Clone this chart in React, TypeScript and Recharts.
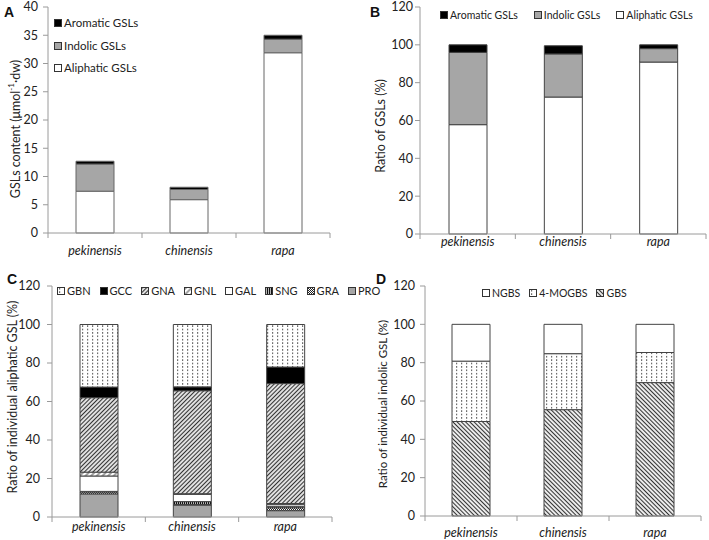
import React from "react";
import { BarChart, Bar, XAxis, YAxis, Legend } from "recharts";

const categories = ["pekinensis", "chinensis", "rapa"];

// A: GSLs content (µmol/g dw)
const aliphaticContent = [7.4, 5.9, 31.9];
const indolicContent = [4.8, 1.8, 2.4];
const aromaticContent = [0.5, 0.4, 0.7];

// B: ratio of GSLs (%)
const aliphaticRatio = [57.8, 72.4, 90.9];
const indolicRatio = [38.2, 22.8, 7.1];
const aromaticRatio = [4.0, 4.3, 2.0];

// C: individual aliphatic GSL (%)
const pro = [12.0, 6.2, 3.3];
const gra = [1.0, 0.3, 1.5];
const sng = [0.3, 1.5, 0.8];
const gal = [8.0, 3.8, 1.0];
const gnl = [2.0, 0.3, 0.4];
const gna = [38.7, 53.5, 62.3];
const gcc = [5.5, 2.0, 8.6];
const gbn = [32.5, 32.4, 22.1];

// D: individual indolic GSL (%)
const gbs = [49.3, 55.5, 69.6];
const mogbs = [31.5, 29.2, 15.7];
const ngbs = [19.2, 15.3, 14.7];

const ticksContent = [0, 5, 10, 15, 20, 25, 30, 35, 40];
const ticksPct = [0, 20, 40, 60, 80, 100, 120];

const FONT = "Lato, 'Noto Sans', sans-serif";
const AXIS = "#9a9a9a";
const EDGE = "#444";

type Series = { key: string; name: string; fill: string; values: number[] };

const seriesA: Series[] = [
  { key: "aliphatic", name: "Aliphatic GSLs", fill: "#ffffff", values: aliphaticContent },
  { key: "indolic", name: "Indolic GSLs", fill: "#a6a6a6", values: indolicContent },
  { key: "aromatic", name: "Aromatic GSLs", fill: "#000000", values: aromaticContent },
];
const seriesB: Series[] = [
  { key: "aliphatic", name: "Aliphatic GSLs", fill: "#ffffff", values: aliphaticRatio },
  { key: "indolic", name: "Indolic GSLs", fill: "#a6a6a6", values: indolicRatio },
  { key: "aromatic", name: "Aromatic GSLs", fill: "#000000", values: aromaticRatio },
];
const seriesC: Series[] = [
  { key: "PRO", name: "PRO", fill: "#a6a6a6", values: pro },
  { key: "GRA", name: "GRA", fill: "url(#pChk)", values: gra },
  { key: "SNG", name: "SNG", fill: "url(#pVert)", values: sng },
  { key: "GAL", name: "GAL", fill: "#ffffff", values: gal },
  { key: "GNL", name: "GNL", fill: "url(#pWide)", values: gnl },
  { key: "GNA", name: "GNA", fill: "url(#pFwd)", values: gna },
  { key: "GCC", name: "GCC", fill: "#000000", values: gcc },
  { key: "GBN", name: "GBN", fill: "url(#pDots)", values: gbn },
];
const seriesD: Series[] = [
  { key: "GBS", name: "GBS", fill: "url(#pBack)", values: gbs },
  { key: "MOGBS", name: "4-MOGBS", fill: "url(#pDots)", values: mogbs },
  { key: "NGBS", name: "NGBS", fill: "#ffffff", values: ngbs },
];

function toRows(series: Series[]) {
  return categories.map((c, i) => {
    const row: Record<string, any> = { name: c };
    series.forEach((s) => (row[s.key] = s.values[i]));
    return row;
  });
}

function CategoryTick(props: any) {
  const { x, y, payload, index, labelDy, half } = props;
  const h = payload && payload.offset ? payload.offset : half;
  return (
    <g>
      <line x1={x - h} x2={x - h} y1={y} y2={y + 5} stroke={AXIS} />
      {index === categories.length - 1 && <line x1={x + h} x2={x + h} y1={y} y2={y + 5} stroke={AXIS} />}
      <text x={x} y={y + labelDy} textAnchor="middle" fontStyle="italic" fontSize={12.5} fontFamily={FONT} fill="#222">
        {payload.value}
      </text>
    </g>
  );
}

function LegendBox({ items, vertical, gap, fontSize }: { items: Series[]; vertical?: boolean; gap: number; fontSize: number }) {
  return (
    <div
      style={{
        display: "flex",
        flexDirection: vertical ? "column" : "row",
        gap,
        fontFamily: FONT,
        fontSize,
        color: "#222",
        whiteSpace: "nowrap",
      }}
    >
      {items.map((s) => (
        <div key={s.key} style={{ display: "flex", alignItems: "center", gap: 2, lineHeight: "12px" }}>
          <svg width={8} height={8}>
            <rect x={0.5} y={0.5} width={7} height={7} fill={s.fill} stroke="#333" strokeWidth={1} />
          </svg>
          <span>{s.name}</span>
        </div>
      ))}
    </div>
  );
}

type PanelProps = {
  letter: string;
  left: number;
  top: number;
  width: number;
  series: Series[];
  domain: [number, number];
  ticks: number[];
  yWidth: number;
  margin: { top: number; right: number; bottom: number; left: number };
  xHeight: number;
  labelDy: number;
  tickMargin: number;
  yLabel: React.ReactNode;
  yLabelPos: [number, number];
  yLabelSize: number;
  legend: { left: number; top: number; vertical?: boolean; gap: number; fontSize: number };
  letterPos: [number, number];
  edge: string;
};

function Panel(p: PanelProps) {
  const plotW = p.width - p.margin.left - p.margin.right - p.yWidth;
  const half = plotW / categories.length / 2;
  return (
    <div style={{ position: "absolute", left: p.left, top: p.top }}>
      <BarChart width={p.width} height={270} data={toRows(p.series)} margin={p.margin} barSize={38}>
        <XAxis
          dataKey="name"
          height={p.xHeight}
          axisLine={{ stroke: AXIS }}
          tickLine={false}
          tickSize={0}
          tickMargin={0}
          interval={0}
          tick={(t: any) => <CategoryTick {...t} labelDy={p.labelDy} half={half} />}
        />
        <YAxis
          width={p.yWidth}
          domain={p.domain}
          ticks={p.ticks}
          interval={0}
          axisLine={{ stroke: AXIS }}
          tickLine={{ stroke: AXIS }}
          tickSize={5}
          tickMargin={p.tickMargin}
          tick={{ fontSize: 12.5, fill: "#222", fontFamily: FONT }}
          label={{
            content: () => (
              <text
                x={p.yLabelPos[0]}
                y={p.yLabelPos[1]}
                transform={`rotate(-90 ${p.yLabelPos[0]} ${p.yLabelPos[1]})`}
                textAnchor="middle"
                dominantBaseline="central"
                fontSize={p.yLabelSize}
                fontFamily={FONT}
                fill="#222"
              >
                {p.yLabel}
              </text>
            ),
          }}
        />
        <Legend
          layout="horizontal"
          verticalAlign="middle"
          align="center"
          wrapperStyle={{ position: "absolute", left: p.legend.left, top: p.legend.top, width: "auto", height: "auto" }}
          content={() => (
            <LegendBox
              items={[...p.series].reverse()}
              vertical={p.legend.vertical}
              gap={p.legend.gap}
              fontSize={p.legend.fontSize}
            />
          )}
        />
        {p.series.map((s) => (
          <Bar
            key={s.key}
            dataKey={s.key}
            name={s.name}
            stackId="s"
            fill={s.fill}
            stroke={p.edge}
            strokeWidth={1}
            isAnimationActive={false}
          />
        ))}
      </BarChart>
      <div
        style={{
          position: "absolute",
          left: p.letterPos[0],
          top: p.letterPos[1],
          fontFamily: "Arial, 'Liberation Sans', sans-serif",
          fontWeight: "bold",
          fontSize: 14,
          color: "#111",
        }}
      >
        {p.letter}
      </div>
    </div>
  );
}

function Patterns() {
  return (
    <svg width={0} height={0} style={{ position: "absolute" }}>
      <defs>
        <pattern id="pDots" width="5" height="3.4" patternUnits="userSpaceOnUse">
          <rect width="5" height="3.4" fill="#fff" />
          <rect x="2" y="1.1" width="1.2" height="1.2" fill="#333" />
        </pattern>
        <pattern id="pFwd" width="3" height="3" patternUnits="userSpaceOnUse" patternTransform="rotate(45)">
          <rect width="3" height="3" fill="#fff" />
          <line x1="1.5" y1="0" x2="1.5" y2="3" stroke="#333" strokeWidth="1.3" />
        </pattern>
        <pattern id="pBack" width="3" height="3" patternUnits="userSpaceOnUse" patternTransform="rotate(-45)">
          <rect width="3" height="3" fill="#fff" />
          <line x1="1.5" y1="0" x2="1.5" y2="3" stroke="#333" strokeWidth="1.2" />
        </pattern>
        <pattern id="pWide" width="4" height="4" patternUnits="userSpaceOnUse" patternTransform="rotate(45)">
          <rect width="4" height="4" fill="#fff" />
          <line x1="2" y1="0" x2="2" y2="4" stroke="#444" strokeWidth="1" />
        </pattern>
        <pattern id="pVert" width="2" height="2" patternUnits="userSpaceOnUse">
          <rect width="2" height="2" fill="#fff" />
          <rect x="0" y="0" width="1.3" height="2" fill="#111" />
        </pattern>
        <pattern id="pChk" width="2" height="2" patternUnits="userSpaceOnUse">
          <rect width="2" height="2" fill="#fff" />
          <rect x="0" y="0" width="1" height="1" fill="#222" />
          <rect x="1" y="1" width="1" height="1" fill="#222" />
        </pattern>
      </defs>
    </svg>
  );
}

export default function App() {
  return (
    <div style={{ position: "absolute", left: 0, top: 0, width: 709, height: 540, background: "#fff", overflow: "hidden" }}>
      <Patterns />
      <Panel
        letter="A"
        left={0}
        top={0}
        width={354}
        series={seriesA}
        domain={[0, 40]}
        ticks={ticksContent}
        yWidth={48}
        margin={{ top: 7, right: 24, bottom: 7, left: 0 }}
        xHeight={30}
        labelDy={22}
        tickMargin={5}
        yLabel={
          <>
            GSLs content (μmol
            <tspan dy={-4} fontSize={8}>-1</tspan>
            <tspan dy={4}>·dw)</tspan>
          </>
        }
        yLabelPos={[15, 129]}
        yLabelSize={12.5}
        legend={{ left: 54, top: 17, vertical: true, gap: 10.5, fontSize: 11.5 }}
        letterPos={[4, 4]}
        edge="#666"
      />
      <Panel
        letter="B"
        left={354}
        top={0}
        width={355}
        series={seriesB}
        domain={[0, 120]}
        ticks={ticksPct}
        yWidth={66}
        margin={{ top: 7, right: 3, bottom: 6, left: 0 }}
        xHeight={30}
        labelDy={12}
        tickMargin={2}
        yLabel="Ratio of GSLs (%)"
        yLabelPos={[26, 126]}
        yLabelSize={12.5}
        legend={{ left: 86, top: 9, gap: 16, fontSize: 10.5 }}
        letterPos={[16, 4]}
        edge={EDGE}
      />
      <Panel
        letter="C"
        left={0}
        top={270}
        width={354}
        series={seriesC}
        domain={[0, 120]}
        ticks={ticksPct}
        yWidth={52}
        margin={{ top: 16, right: 22, bottom: 3, left: 0 }}
        xHeight={20}
        labelDy={14}
        tickMargin={7}
        yLabel="Ratio of individual aliphatic GSL (%)"
        yLabelPos={[12, 127]}
        yLabelSize={12.5}
        legend={{ left: 57, top: 15, gap: 9, fontSize: 11 }}
        letterPos={[7, 1]}
        edge={EDGE}
      />
      <Panel
        letter="D"
        left={354}
        top={270}
        width={355}
        series={seriesD}
        domain={[0, 120]}
        ticks={ticksPct}
        yWidth={71}
        margin={{ top: 16, right: 8, bottom: 4, left: 0 }}
        xHeight={20}
        labelDy={21}
        tickMargin={5}
        yLabel="Ratio of individual indolic GSL (%)"
        yLabelPos={[28, 134]}
        yLabelSize={11.5}
        legend={{ left: 128, top: 17, gap: 9, fontSize: 10.5 }}
        letterPos={[22, 1]}
        edge={EDGE}
      />
    </div>
  );
}
